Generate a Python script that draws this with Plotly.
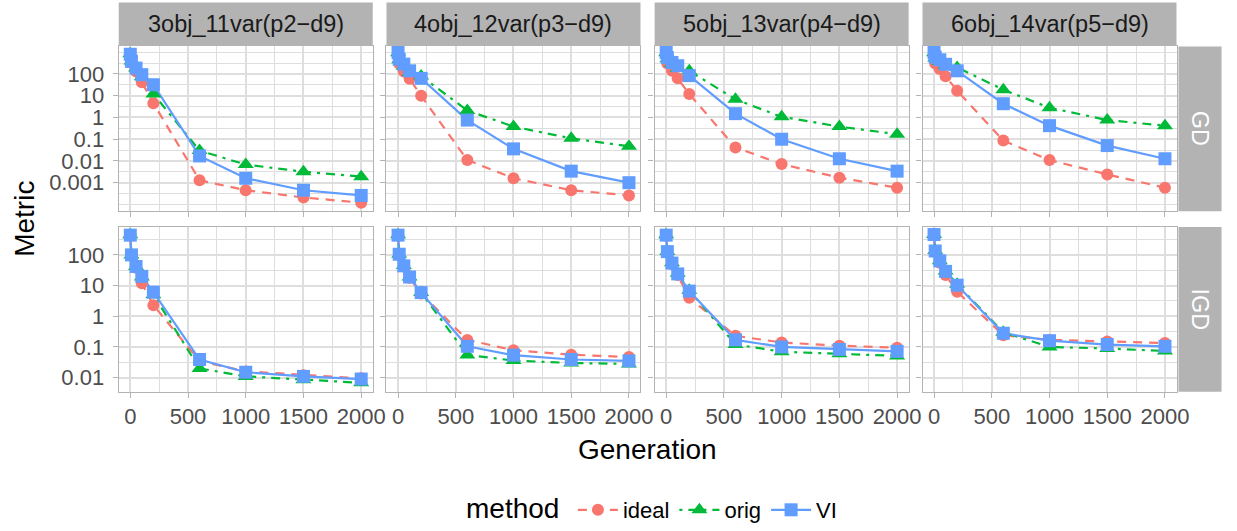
import plotly.graph_objects as go

W, H = 1237, 531

generations = [0, 10, 50, 100, 200, 600, 1000, 1500, 2000]
problems = ["3obj_11var(p2\u2212d9)", "4obj_12var(p3\u2212d9)", "5obj_13var(p4\u2212d9)", "6obj_14var(p5\u2212d9)"]
metrics = ["GD", "IGD"]
methods = ["ideal", "orig", "VI"]

# GD values per problem
gd_p2_ideal = [800, 330, 130, 42, 4.5, 0.0013, 0.00045, 0.00021, 0.00012]
gd_p2_orig = [850, 400, 190, 75, 12, 0.03, 0.0068, 0.0032, 0.0019]
gd_p2_vi = [810, 380, 187, 93, 32, 0.017, 0.0016, 0.00045, 0.00026]

gd_p3_ideal = [850, 300, 130, 60, 10, 0.011, 0.0016, 0.00045, 0.00026]
gd_p3_orig = [950, 450, 230, 120, 80, 2.1, 0.38, 0.11, 0.047]
gd_p3_vi = [980, 480, 285, 140, 63, 0.76, 0.036, 0.0034, 0.001]

gd_p4_ideal = [800, 300, 140, 63, 12, 0.042, 0.0072, 0.0017, 0.00059]
gd_p4_orig = [950, 500, 300, 180, 140, 6.8, 1.07, 0.38, 0.17]
gd_p4_vi = [980, 570, 340, 240, 84, 1.5, 0.1, 0.0126, 0.0034]

gd_p5_ideal = [750, 300, 170, 79, 17, 0.087, 0.011, 0.0024, 0.00059]
gd_p5_orig = [950, 550, 380, 250, 200, 19, 2.8, 0.76, 0.42]
gd_p5_vi = [980, 600, 450, 280, 140, 4.3, 0.42, 0.051, 0.0126]

# IGD values per problem
igd_p2_ideal = [430, 95, 38, 12, 2.3, 0.035, 0.016, 0.012, 0.0095]
igd_p2_orig = [450, 100, 42, 19, 5, 0.02, 0.011, 0.0085, 0.0068]
igd_p2_vi = [440, 100, 42, 20, 6.1, 0.039, 0.015, 0.011, 0.009]

igd_p3_ideal = [430, 100, 42, 18, 5.5, 0.17, 0.078, 0.056, 0.047]
igd_p3_orig = [450, 105, 45, 19, 5.9, 0.055, 0.036, 0.03, 0.028]
igd_p3_vi = [440, 105, 44, 19, 5.9, 0.105, 0.054, 0.039, 0.035]

igd_p4_ideal = [430, 120, 50, 22, 4.0, 0.23, 0.14, 0.11, 0.095]
igd_p4_orig = [450, 130, 55, 25, 7, 0.12, 0.07, 0.06, 0.051]
igd_p4_vi = [440, 128, 54, 24, 6.6, 0.17, 0.1, 0.083, 0.072]

igd_p5_ideal = [440, 125, 55, 22, 6.3, 0.24, 0.17, 0.15, 0.135]
igd_p5_orig = [460, 140, 65, 30, 11, 0.30, 0.1, 0.089, 0.074]
igd_p5_vi = [460, 134, 64, 29, 10.3, 0.28, 0.16, 0.12, 0.105]

x_ticks = [0, 500, 1000, 1500, 2000]
x_minor = [250, 750, 1250, 1750]
gd_ticks = [0.001, 0.01, 0.1, 1, 10, 100]
gd_tick_labels = ["0.001", "0.01", "0.1", "1", "10", "100"]
igd_ticks = [0.01, 0.1, 1, 10, 100]
igd_tick_labels = ["0.01", "0.1", "1", "10", "100"]

data = {
    ("GD", 0): [gd_p2_ideal, gd_p2_orig, gd_p2_vi],
    ("GD", 1): [gd_p3_ideal, gd_p3_orig, gd_p3_vi],
    ("GD", 2): [gd_p4_ideal, gd_p4_orig, gd_p4_vi],
    ("GD", 3): [gd_p5_ideal, gd_p5_orig, gd_p5_vi],
    ("IGD", 0): [igd_p2_ideal, igd_p2_orig, igd_p2_vi],
    ("IGD", 1): [igd_p3_ideal, igd_p3_orig, igd_p3_vi],
    ("IGD", 2): [igd_p4_ideal, igd_p4_orig, igd_p4_vi],
    ("IGD", 3): [igd_p5_ideal, igd_p5_orig, igd_p5_vi],
}

colors = {"ideal": "#F8766D", "orig": "#00BA38", "VI": "#619CFF"}
symbols = {"ideal": "circle", "orig": "triangle-up", "VI": "square"}
msizes = {"ideal": 12, "orig": 14, "VI": 13}
dashes = {"ideal": "9px,7px", "orig": "3px,6px,9px,6px", "VI": "solid"}

FONT = "Liberation Sans, Arial, sans-serif"
GRID = "#DEDEDE"
BORDER = "#B3B3B3"
TICKC = "#4D4D4D"

# pixel layout
panel_left = [120.0, 390.6, 661.6, 932.3]
panel_w = 256.7
row_top = {"GD": 47.0, "IGD": 230.0}
row_bot = {"GD": 214.0, "IGD": 397.0}
y_ranges = {"GD": [-4.31, 3.27], "IGD": [-2.46, 2.91]}


def px(x):
    return x / W


def py(y):
    return 1 - y / H


fig = go.Figure()
layout = dict(
    width=W, height=H, margin=dict(l=0, r=0, t=0, b=0),
    plot_bgcolor="white", paper_bgcolor="white",
    font=dict(family=FONT, color="#1A1A1A"),
    showlegend=True,
)

shapes = []
annotations = []

k = 0
for r, metric in enumerate(metrics):
    for c in range(4):
        k += 1
        xa = "x" if k == 1 else f"x{k}"
        ya = "y" if k == 1 else f"y{k}"
        xkey = "xaxis" if k == 1 else f"xaxis{k}"
        ykey = "yaxis" if k == 1 else f"yaxis{k}"
        L = panel_left[c]
        R = L + panel_w
        layout[xkey] = dict(
            domain=[px(L), px(R)], anchor=ya, range=[-100, 2100],
            tickvals=x_ticks, ticktext=[str(v) for v in x_ticks],
            showticklabels=(metric == "IGD"),
            ticks="outside", ticklen=5, tickwidth=1.3, tickcolor=BORDER,
            tickfont=dict(size=22, color=TICKC, family=FONT),
            showgrid=True, gridcolor=GRID, gridwidth=1.6,
            minor=dict(tickvals=x_minor, showgrid=True, gridcolor=GRID, gridwidth=1.0, ticks=""),
            showline=True, linecolor=BORDER, linewidth=1.3, mirror=True,
            zeroline=False, fixedrange=True,
        )
        ticks = gd_ticks if metric == "GD" else igd_ticks
        labels = gd_tick_labels if metric == "GD" else igd_tick_labels
        lo, hi = y_ranges[metric]
        minor_vals = [10 ** (e / 2) for e in range(-10, 8)]
        minor_vals = [v for v in minor_vals if v not in ticks]
        layout[ykey] = dict(
            domain=[py(row_bot[metric]), py(row_top[metric])], anchor=xa,
            type="log", range=[lo, hi],
            tickvals=ticks, ticktext=labels,
            showticklabels=(c == 0), ticklabelstandoff=4,
            ticks="outside", ticklen=5, tickwidth=1.3, tickcolor=BORDER,
            tickfont=dict(size=22, color=TICKC, family=FONT),
            showgrid=True, gridcolor=GRID, gridwidth=1.6,
            minor=dict(tickvals=minor_vals, showgrid=True, gridcolor=GRID, gridwidth=1.0, ticks=""),
            showline=True, linecolor=BORDER, linewidth=1.3, mirror=True,
            zeroline=False, fixedrange=True,
        )
        series = data[(metric, c)]
        # lines first
        for m, vals in zip(methods, series):
            fig.add_trace(go.Scatter(
                x=generations, y=vals, mode="lines", xaxis=xa, yaxis=ya,
                line=dict(color=colors[m], width=2.2, dash=dashes[m]),
                showlegend=False, hoverinfo="skip", cliponaxis=False,
            ))
        for m, vals in zip(methods, series):
            fig.add_trace(go.Scatter(
                x=generations, y=vals, mode="markers", xaxis=xa, yaxis=ya,
                marker=dict(color=colors[m], symbol=symbols[m], size=msizes[m], line=dict(width=0)),
                showlegend=False, cliponaxis=False,
            ))
        # top strips
        if metric == "GD":
            shapes.append(dict(type="rect", xref="paper", yref="paper",
                               x0=px(L), x1=px(R), y0=py(46.7), y1=py(2.5),
                               fillcolor=BORDER, line=dict(width=0), layer="below"))
            annotations.append(dict(text=problems[c], xref="paper", yref="paper",
                                    x=px((L + R) / 2), y=py(24.5), showarrow=False,
                                    xanchor="center", yanchor="middle",
                                    font=dict(size=23.5, color="#1A1A1A", family=FONT)))
    # right strips
    shapes.append(dict(type="rect", xref="paper", yref="paper",
                       x0=px(1191), x1=px(1234.5), y0=py(row_bot[metric]), y1=py(row_top[metric]),
                       fillcolor=BORDER, line=dict(width=0), layer="below"))
    annotations.append(dict(text=metric, xref="paper", yref="paper",
                            x=px(1212.7), y=py((row_top[metric] + row_bot[metric]) / 2),
                            showarrow=False, textangle=90, xanchor="center", yanchor="middle",
                            font=dict(size=23.5, color="white", family=FONT)))

# legend entries
for m in methods:
    fig.add_trace(go.Scatter(
        x=[None], y=[None], mode="lines+markers", name=m,
        line=dict(color=colors[m], width=2.2, dash=dashes[m]),
        marker=dict(color=colors[m], symbol=symbols[m], size=msizes[m]),
        showlegend=True,
    ))

annotations.append(dict(text="Generation", xref="paper", yref="paper",
                        x=px(654.5), y=py(455), showarrow=False,
                        xanchor="center", yanchor="middle",
                        font=dict(size=28, color="#000000", family=FONT)))
annotations.append(dict(text="Metric", xref="paper", yref="paper",
                        x=px(24), y=py(222), showarrow=False, textangle=-90,
                        xanchor="center", yanchor="middle",
                        font=dict(size=28, color="#000000", family=FONT)))
annotations.append(dict(text="method", xref="paper", yref="paper",
                        x=px(517.5), y=py(515), showarrow=False,
                        xanchor="center", yanchor="middle",
                        font=dict(size=28, color="#000000", family=FONT)))

layout["shapes"] = shapes
layout["annotations"] = annotations
layout["legend"] = dict(
    orientation="h", x=px(579), xanchor="left", y=py(517), yanchor="middle",
    font=dict(size=22, family=FONT, color="#000000"),
    itemwidth=40, tracegroupgap=0, bgcolor="rgba(0,0,0,0)", valign="middle",
)
fig.update_layout(**layout)
fig.write_html(
    "out.html",
    config={"displayModeBar": False},
    post_script="document.body.style.margin='0';document.body.style.overflow='hidden';",
)
